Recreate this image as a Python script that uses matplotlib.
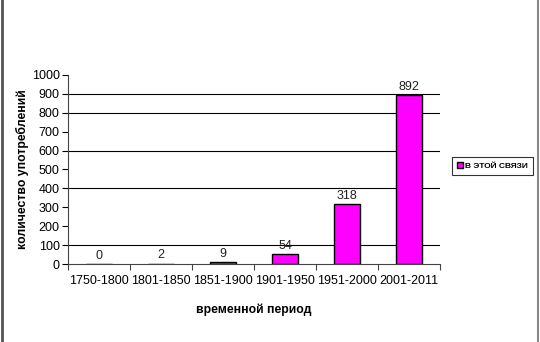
import matplotlib
matplotlib.use("Agg")
import matplotlib.pyplot as plt
from matplotlib.lines import Line2D

periods = ["1750-1800", "1801-1850", "1851-1900", "1901-1950", "1951-2000", "2001-2011"]
counts = [0, 2, 9, 54, 318, 892]
series_name = "в этой связи"
yticks = [0, 100, 200, 300, 400, 500, 600, 700, 800, 900, 1000]
grid_levels = [100, 400, 600, 800, 900]

plt.rcParams['font.family'] = ['Liberation Sans', 'DejaVu Sans']

fig = plt.figure(figsize=(5.4, 3.42), dpi=100)
ax = fig.add_axes([0.126, 0.228, 0.689, 0.553])

x = list(range(len(periods)))
bars = ax.bar(x, counts, width=0.42, color='#FF00FF', edgecolor='black', linewidth=1.0,
              label=series_name.upper(), zorder=3)
for xi, v in zip(x, counts):
    ax.text(xi, v + 12, str(v), ha='center', va='bottom', fontsize=9, color='#222222')

for g in grid_levels:
    ax.axhline(g, color='black', linewidth=0.8, zorder=1)

ax.set_xlim(-0.5, len(periods) - 0.5)
ax.set_ylim(0, 1000)
ax.set_yticks(yticks)
ax.set_yticklabels([str(t) for t in yticks], fontsize=9)
ax.set_xticks([i - 0.5 for i in range(len(periods) + 1)], minor=False)
ax.set_xticklabels([])
ax.set_xticks(x, minor=True)
ax.set_xticklabels(periods, minor=True, fontsize=9)
ax.tick_params(axis='x', which='minor', length=0, pad=8)
ax.tick_params(axis='x', which='major', length=4, direction='out', color='#444444')
ax.tick_params(axis='y', length=4, direction='out', pad=2)
for s in ['top', 'right']:
    ax.spines[s].set_visible(False)
ax.spines['left'].set_color('#444444')
ax.spines['bottom'].set_color('#444444')

ax.set_ylabel("количество употреблений", fontsize=8.8, fontweight='bold', labelpad=2)
ax.set_xlabel("временной период", fontsize=8.8, fontweight='bold', labelpad=12)

leg = fig.legend(handles=[bars], labels=[series_name.upper()], loc='center',
                 bbox_to_anchor=(0.912, 0.515), fancybox=False, frameon=True,
                 edgecolor='black', handlelength=0.7, handleheight=0.7, handletextpad=0.3,
                 borderpad=0.6, prop={'weight': 'bold', 'size': 6})
leg.get_frame().set_linewidth(0.8)

fig.add_artist(Line2D([0.003, 0.003], [0, 1], transform=fig.transFigure, color='#555555', linewidth=2))
fig.add_artist(Line2D([0.996, 0.996], [0, 1], transform=fig.transFigure, color='#888888', linewidth=1.5))

fig.savefig("out.png", dpi=100)
